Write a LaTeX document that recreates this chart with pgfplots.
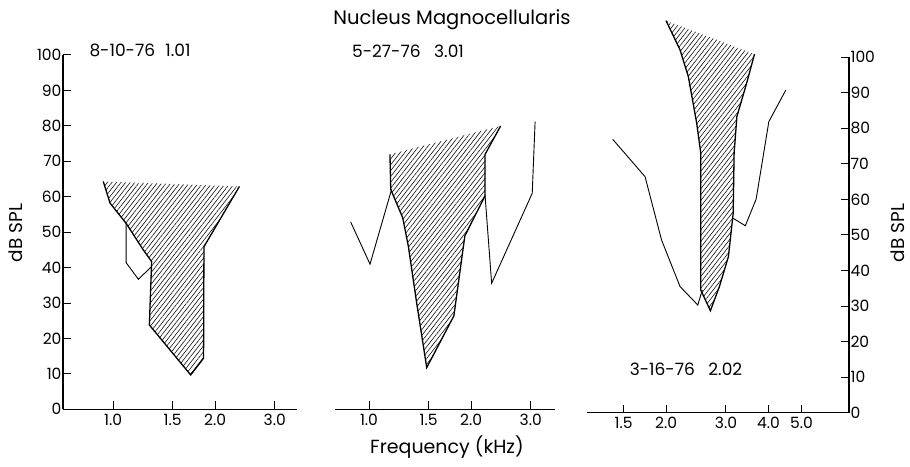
\documentclass[border=0pt]{standalone}
\usepackage{fontspec}
\setmainfont{Poppins}
\usepackage{pgfplots}
\pgfplotsset{compat=1.18}
\usetikzlibrary{patterns.meta}
\pgfplotsset{
  panel/.style={
    scale only axis, ymin=0, ymax=100, clip=false,
    axis x line*=bottom, axis line style={-, line width=1.1pt},
    tick align=inside, major tick length=8pt, tick style={line width=1pt, black},
    xminorticks=false, yminorticks=false,
    ytick={0,10,...,100},
    tick label style={font=\fontsize{15.5}{15.5}\selectfont},
    /pgf/number format/assume math mode=true,
    xticklabel style={yshift=-1pt},
  },
  hatch/.style={draw=none, pattern={Lines[angle=52,distance=3.6pt,line width=0.55pt]}, pattern color=black, forget plot},
  edge/.style={black, line width=1.3pt, mark=none},
  thin/.style={black, line width=0.9pt, mark=none},
}
\begin{document}
\begin{tikzpicture}
\useasboundingbox (0,0) rectangle (910pt,466pt);
% ---------------- left panel
\begin{axis}[xmode=log, panel, at={(63pt,56.7pt)}, anchor=south west, width=234pt, height=354.3pt,
  xmin=0.712, xmax=3.49, axis y line*=left,
  xtick={1,1.5,2,3}, xticklabels={1.0,1.5,2.0,3.0},
  yticklabel style={xshift=2pt}]
\addplot[hatch] coordinates {(0.936,64.3) (0.98,58.2) (1.093,52.5) (1.228,45) (1.30,41.7) (1.28,23.8) (1.695,9.7) (1.85,14.4) (1.855,45.9) (2.36,62.9)};
\addplot[edge] coordinates {(0.936,64.3) (0.98,58.2) (1.093,52.5) (1.228,45) (1.30,41.7) (1.28,23.8) (1.695,9.7) (1.85,14.4) (1.855,45.9) (2.36,62.9)};
\addplot[thin] coordinates {(1.093,52.5) (1.093,41.4) (1.188,36.7) (1.30,40.3)};
\end{axis}
% ---------------- middle panel
\begin{axis}[xmode=log, panel, at={(335pt,56.6pt)}, anchor=south west, width=220pt, height=354.3pt,
  xmin=0.794, xmax=3.537, axis y line=none,
  xtick={1,1.5,2,3}, xticklabels={1.0,1.5,2.0,3.0}]
\addplot[hatch] coordinates {(1.153,72.0) (1.159,62.1) (1.257,54.1) (1.306,46.1) (1.382,30.1) (1.48,11.8) (1.78,26.4) (1.918,49) (2.2,60.3) (2.2,72) (2.445,80.0)};
\addplot[edge] coordinates {(1.153,72.0) (1.159,62.1) (1.257,54.1) (1.306,46.1) (1.382,30.1) (1.48,11.8) (1.78,26.4) (1.918,49) (2.2,60.3) (2.2,72) (2.445,80.0)};
\addplot[thin] coordinates {(0.883,52.9) (1.007,41) (1.166,62.1)};
\addplot[thin] coordinates {(2.2,60.3) (2.30,35.6) (3.03,61) (3.09,81.2)};
\end{axis}
% ---------------- right panel
\begin{axis}[xmode=log, panel, at={(587pt,53.3pt)}, anchor=south west, width=262pt, height=355.4pt,
  xmin=1.171, xmax=6.90, axis y line*=right,
  xtick={1.5,2,3,4,5}, xticklabels={1.5,2.0,3.0,4.0,5.0},
  yticklabel style={xshift=-2pt}]
\addplot[hatch] coordinates {(2.0,110.3) (2.198,102.1) (2.325,94.6) (2.46,81.5) (2.53,73) (2.53,34.5) (2.70,28.7) (2.87,35.5) (3.05,43.9) (3.15,56.1) (3.17,73) (3.23,83.3) (3.45,92.7) (3.64,100.9)};
\addplot[edge] coordinates {(2.0,110.3) (2.198,102.1) (2.325,94.6) (2.46,81.5) (2.53,73) (2.53,34.5) (2.70,28.7) (2.87,35.5) (3.05,43.9) (3.15,56.1) (3.17,73) (3.23,83.3) (3.45,92.7) (3.64,100.9)};
\addplot[thin] coordinates {(1.394,76.9) (1.497,73.5) (1.735,66.4) (1.94,48.6) (2.198,35.5) (2.479,30.3) (2.555,34.5)};
\addplot[thin] coordinates {(3.15,54.7) (3.42,52.6) (3.68,60.1) (4.01,81.9) (4.50,90.8)};
\end{axis}
% ---------------- texts
\node[font=\fontsize{19.5}{19.5}\selectfont, anchor=base] at (452pt,441pt) {Nucleus Magnocellularis};
\node[font=\fontsize{17}{17}\selectfont, anchor=base] at (140pt,409pt) {8-10-76\hspace{0.6em}1.01};
\node[font=\fontsize{17}{17}\selectfont, anchor=base] at (408pt,408pt) {5-27-76\hspace{0.8em}3.01};
\node[font=\fontsize{17}{17}\selectfont, anchor=base] at (686pt,91pt) {3-16-76\hspace{0.8em}2.02};
\node[font=\fontsize{19}{19}\selectfont, anchor=base] at (447pt,13pt) {Frequency (kHz)};
\node[font=\fontsize{18.5}{18.5}\selectfont, rotate=90, inner sep=0pt] at (16pt,233pt) {dB SPL};
\node[font=\fontsize{18.5}{18.5}\selectfont, rotate=90, inner sep=0pt] at (898pt,233pt) {dB SPL};
\end{tikzpicture}
\end{document}
